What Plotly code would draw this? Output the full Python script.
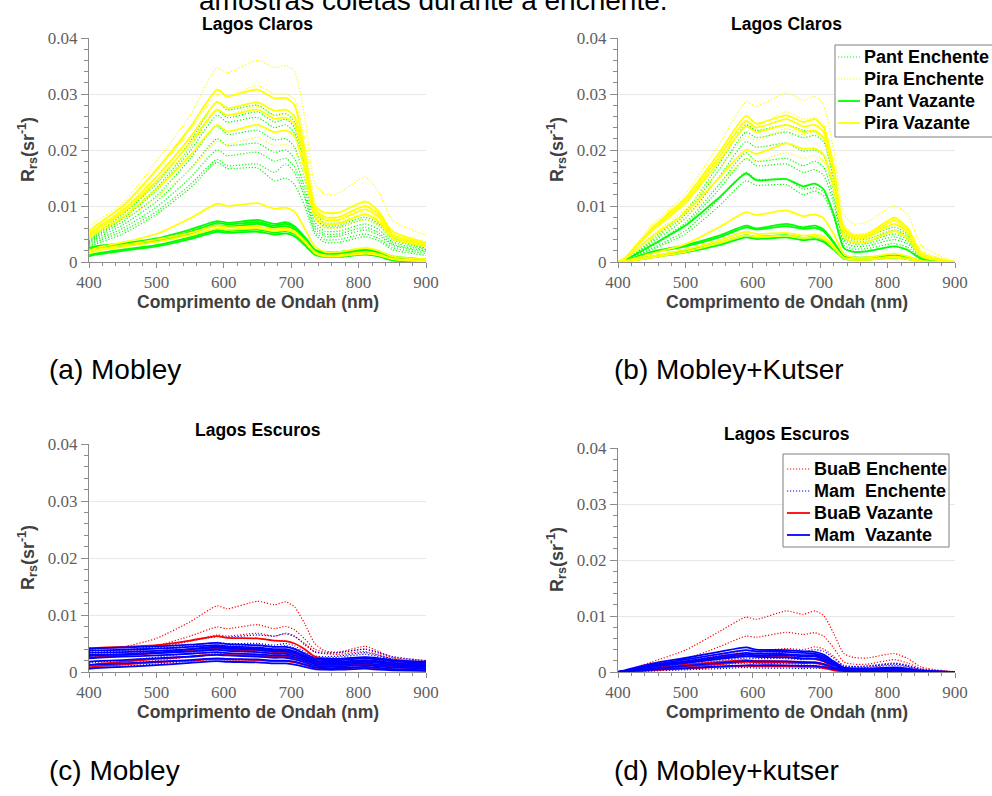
import plotly.graph_objects as go

# Wavelength knots (nm) shared by every spectrum
wavelength = [400, 410, 450, 500, 550, 590, 605, 650, 675, 692, 705, 720, 735, 750, 770, 810, 830, 850, 900]

# ---------------- Lagos Claros, Mobley ----------------
claros_mobley_pant_enchente = [
    [0.0040, 0.0050, 0.0085, 0.0140, 0.0215, 0.0286, 0.0272, 0.0280, 0.0262, 0.0265, 0.0250, 0.0180, 0.0090, 0.0070, 0.0070, 0.0085, 0.0072, 0.0045, 0.0028],
    [0.0038, 0.0048, 0.0080, 0.0132, 0.0205, 0.0272, 0.0258, 0.0268, 0.0250, 0.0255, 0.0240, 0.0172, 0.0085, 0.0065, 0.0065, 0.0080, 0.0068, 0.0042, 0.0025],
    [0.0036, 0.0046, 0.0077, 0.0128, 0.0198, 0.0262, 0.0250, 0.0258, 0.0240, 0.0245, 0.0230, 0.0165, 0.0080, 0.0062, 0.0062, 0.0076, 0.0065, 0.0040, 0.0024],
    [0.0034, 0.0044, 0.0072, 0.0118, 0.0184, 0.0244, 0.0228, 0.0235, 0.0218, 0.0220, 0.0205, 0.0148, 0.0072, 0.0055, 0.0055, 0.0068, 0.0058, 0.0036, 0.0022],
    [0.0032, 0.0041, 0.0066, 0.0108, 0.0166, 0.0220, 0.0208, 0.0212, 0.0196, 0.0200, 0.0185, 0.0132, 0.0065, 0.0050, 0.0050, 0.0062, 0.0052, 0.0032, 0.0020],
    [0.0030, 0.0038, 0.0060, 0.0098, 0.0150, 0.0200, 0.0190, 0.0196, 0.0180, 0.0185, 0.0170, 0.0122, 0.0060, 0.0046, 0.0046, 0.0057, 0.0048, 0.0030, 0.0018],
    [0.0028, 0.0035, 0.0055, 0.0090, 0.0138, 0.0183, 0.0172, 0.0175, 0.0160, 0.0175, 0.0160, 0.0115, 0.0055, 0.0040, 0.0040, 0.0050, 0.0042, 0.0026, 0.0015],
    [0.0026, 0.0032, 0.0050, 0.0085, 0.0132, 0.0178, 0.0167, 0.0168, 0.0145, 0.0150, 0.0138, 0.0100, 0.0050, 0.0035, 0.0035, 0.0045, 0.0038, 0.0022, 0.0012],
]
claros_mobley_pira_enchente = [
    [0.0062, 0.0072, 0.0105, 0.0180, 0.0262, 0.0346, 0.0338, 0.0360, 0.0347, 0.0351, 0.0340, 0.0260, 0.0140, 0.0121, 0.0123, 0.0152, 0.0125, 0.0075, 0.0048],
    [0.0050, 0.0060, 0.0095, 0.0160, 0.0235, 0.0300, 0.0295, 0.0315, 0.0300, 0.0300, 0.0290, 0.0220, 0.0110, 0.0078, 0.0078, 0.0100, 0.0085, 0.0050, 0.0035],
    [0.0045, 0.0055, 0.0088, 0.0140, 0.0205, 0.0270, 0.0262, 0.0278, 0.0262, 0.0265, 0.0255, 0.0190, 0.0095, 0.0070, 0.0070, 0.0088, 0.0075, 0.0045, 0.0030],
    [0.0040, 0.0050, 0.0075, 0.0115, 0.0165, 0.0215, 0.0210, 0.0222, 0.0208, 0.0210, 0.0200, 0.0150, 0.0080, 0.0060, 0.0060, 0.0075, 0.0065, 0.0040, 0.0028],
]
claros_mobley_pant_vazante = [
    [0.0025, 0.0028, 0.0033, 0.0042, 0.0058, 0.0073, 0.0070, 0.0075, 0.0068, 0.0071, 0.0064, 0.0045, 0.0022, 0.0018, 0.0018, 0.0023, 0.0019, 0.0010, 0.0005],
    [0.0022, 0.0025, 0.0030, 0.0039, 0.0054, 0.0070, 0.0067, 0.0071, 0.0065, 0.0068, 0.0061, 0.0042, 0.0020, 0.0016, 0.0016, 0.0021, 0.0017, 0.0009, 0.0004],
    [0.0020, 0.0024, 0.0029, 0.0037, 0.0051, 0.0066, 0.0063, 0.0068, 0.0062, 0.0064, 0.0058, 0.0040, 0.0019, 0.0015, 0.0015, 0.0019, 0.0016, 0.0008, 0.0003],
    [0.0012, 0.0015, 0.0022, 0.0030, 0.0044, 0.0057, 0.0055, 0.0058, 0.0053, 0.0055, 0.0050, 0.0034, 0.0016, 0.0012, 0.0012, 0.0017, 0.0013, 0.0006, 0.0002],
    [0.0010, 0.0013, 0.0020, 0.0028, 0.0041, 0.0054, 0.0052, 0.0054, 0.0049, 0.0051, 0.0046, 0.0030, 0.0013, 0.0009, 0.0009, 0.0013, 0.0010, 0.0003, 0.0000],
]
claros_mobley_pira_vazante = [
    [0.0055, 0.0065, 0.0100, 0.0165, 0.0240, 0.0308, 0.0296, 0.0308, 0.0292, 0.0293, 0.0280, 0.0200, 0.0100, 0.0088, 0.0088, 0.0108, 0.0090, 0.0055, 0.0035],
    [0.0050, 0.0060, 0.0092, 0.0152, 0.0222, 0.0286, 0.0275, 0.0285, 0.0270, 0.0272, 0.0260, 0.0190, 0.0095, 0.0080, 0.0080, 0.0100, 0.0085, 0.0050, 0.0032],
    [0.0046, 0.0056, 0.0088, 0.0145, 0.0212, 0.0272, 0.0262, 0.0272, 0.0256, 0.0258, 0.0246, 0.0180, 0.0090, 0.0075, 0.0075, 0.0094, 0.0080, 0.0048, 0.0030],
    [0.0042, 0.0052, 0.0080, 0.0130, 0.0190, 0.0245, 0.0233, 0.0245, 0.0232, 0.0235, 0.0225, 0.0165, 0.0082, 0.0068, 0.0068, 0.0085, 0.0072, 0.0043, 0.0028],
    [0.0020, 0.0025, 0.0035, 0.0050, 0.0078, 0.0104, 0.0100, 0.0105, 0.0095, 0.0097, 0.0090, 0.0060, 0.0028, 0.0018, 0.0018, 0.0025, 0.0020, 0.0010, 0.0005],
    [0.0018, 0.0022, 0.0030, 0.0040, 0.0052, 0.0065, 0.0062, 0.0063, 0.0058, 0.0060, 0.0055, 0.0038, 0.0018, 0.0012, 0.0012, 0.0018, 0.0014, 0.0006, 0.0002],
    [0.0015, 0.0020, 0.0027, 0.0036, 0.0048, 0.0060, 0.0058, 0.0060, 0.0055, 0.0057, 0.0052, 0.0036, 0.0016, 0.0010, 0.0010, 0.0015, 0.0012, 0.0005, 0.0001],
]

# ---------------- Lagos Claros, Mobley+Kutser ----------------
claros_kutser_pant_enchente = [
    [0.0, 0.0003, 0.0040, 0.0090, 0.0175, 0.0245, 0.0235, 0.0245, 0.0235, 0.0232, 0.0222, 0.0150, 0.0055, 0.0045, 0.0046, 0.0062, 0.0050, 0.0015, 0.0],
    [0.0, 0.0003, 0.0037, 0.0085, 0.0165, 0.0232, 0.0222, 0.0232, 0.0222, 0.0226, 0.0215, 0.0145, 0.0050, 0.0040, 0.0041, 0.0057, 0.0046, 0.0013, 0.0],
    [0.0, 0.0003, 0.0034, 0.0078, 0.0152, 0.0215, 0.0205, 0.0212, 0.0198, 0.0200, 0.0190, 0.0128, 0.0045, 0.0036, 0.0037, 0.0050, 0.0040, 0.0012, 0.0],
    [0.0, 0.0002, 0.0030, 0.0070, 0.0138, 0.0195, 0.0180, 0.0185, 0.0172, 0.0180, 0.0170, 0.0115, 0.0040, 0.0032, 0.0033, 0.0045, 0.0036, 0.0011, 0.0],
    [0.0, 0.0002, 0.0028, 0.0066, 0.0130, 0.0185, 0.0172, 0.0175, 0.0160, 0.0165, 0.0155, 0.0105, 0.0036, 0.0028, 0.0029, 0.0040, 0.0032, 0.0010, 0.0],
    [0.0, 0.0002, 0.0024, 0.0056, 0.0112, 0.0160, 0.0148, 0.0148, 0.0130, 0.0133, 0.0125, 0.0085, 0.0030, 0.0023, 0.0024, 0.0033, 0.0026, 0.0008, 0.0],
    [0.0, 0.0002, 0.0022, 0.0050, 0.0100, 0.0145, 0.0137, 0.0138, 0.0120, 0.0127, 0.0118, 0.0080, 0.0026, 0.0019, 0.0020, 0.0028, 0.0022, 0.0007, 0.0],
]
claros_kutser_pira_enchente = [
    [0.0, 0.0008, 0.0065, 0.0122, 0.0210, 0.0286, 0.0278, 0.0302, 0.0289, 0.0296, 0.0280, 0.0200, 0.0085, 0.0068, 0.0072, 0.0100, 0.0085, 0.0030, 0.0],
    [0.0, 0.0006, 0.0055, 0.0105, 0.0185, 0.0250, 0.0243, 0.0268, 0.0255, 0.0258, 0.0245, 0.0175, 0.0065, 0.0050, 0.0052, 0.0075, 0.0062, 0.0020, 0.0],
    [0.0, 0.0005, 0.0048, 0.0094, 0.0165, 0.0225, 0.0218, 0.0238, 0.0228, 0.0232, 0.0220, 0.0158, 0.0058, 0.0045, 0.0047, 0.0068, 0.0056, 0.0018, 0.0],
    [0.0, 0.0004, 0.0040, 0.0080, 0.0140, 0.0185, 0.0180, 0.0195, 0.0185, 0.0190, 0.0180, 0.0128, 0.0048, 0.0038, 0.0040, 0.0058, 0.0048, 0.0015, 0.0],
]
claros_kutser_pant_vazante = [
    [0.0, 0.0002, 0.0018, 0.0030, 0.0047, 0.0065, 0.0060, 0.0068, 0.0062, 0.0065, 0.0058, 0.0036, 0.0010, 0.0008, 0.0008, 0.0012, 0.0009, 0.0002, 0.0],
    [0.0, 0.0002, 0.0016, 0.0028, 0.0044, 0.0062, 0.0058, 0.0064, 0.0059, 0.0061, 0.0055, 0.0034, 0.0009, 0.0007, 0.0007, 0.0011, 0.0008, 0.0002, 0.0],
    [0.0, 0.0001, 0.0010, 0.0020, 0.0034, 0.0048, 0.0045, 0.0048, 0.0043, 0.0045, 0.0040, 0.0025, 0.0007, 0.0005, 0.0005, 0.0009, 0.0006, 0.0001, 0.0],
    [0.0, 0.0001, 0.0008, 0.0017, 0.0030, 0.0044, 0.0041, 0.0044, 0.0039, 0.0041, 0.0036, 0.0022, 0.0006, 0.0004, 0.0004, 0.0008, 0.0005, 0.0001, 0.0],
    [0.0, 0.0003, 0.0030, 0.0065, 0.0115, 0.0158, 0.0146, 0.0148, 0.0135, 0.0140, 0.0130, 0.0085, 0.0025, 0.0018, 0.0019, 0.0028, 0.0021, 0.0006, 0.0],
]
claros_kutser_pira_vazante = [
    [0.0, 0.0007, 0.0060, 0.0115, 0.0195, 0.0261, 0.0247, 0.0262, 0.0250, 0.0255, 0.0240, 0.0170, 0.0060, 0.0048, 0.0050, 0.0079, 0.0060, 0.0015, 0.0],
    [0.0, 0.0007, 0.0058, 0.0110, 0.0188, 0.0252, 0.0240, 0.0255, 0.0242, 0.0245, 0.0232, 0.0165, 0.0058, 0.0045, 0.0047, 0.0074, 0.0056, 0.0014, 0.0],
    [0.0, 0.0006, 0.0055, 0.0105, 0.0180, 0.0242, 0.0232, 0.0245, 0.0232, 0.0235, 0.0222, 0.0158, 0.0055, 0.0042, 0.0044, 0.0068, 0.0052, 0.0013, 0.0],
    [0.0, 0.0005, 0.0045, 0.0088, 0.0150, 0.0200, 0.0193, 0.0212, 0.0202, 0.0203, 0.0192, 0.0135, 0.0045, 0.0034, 0.0036, 0.0055, 0.0042, 0.0010, 0.0],
    [0.0, 0.0002, 0.0015, 0.0032, 0.0062, 0.0089, 0.0084, 0.0092, 0.0082, 0.0085, 0.0078, 0.0050, 0.0015, 0.0008, 0.0008, 0.0015, 0.0010, 0.0002, 0.0],
    [0.0, 0.0001, 0.0010, 0.0022, 0.0038, 0.0054, 0.0050, 0.0052, 0.0047, 0.0049, 0.0045, 0.0028, 0.0008, 0.0005, 0.0005, 0.0010, 0.0006, 0.0001, 0.0],
    [0.0, 0.0001, 0.0008, 0.0018, 0.0034, 0.0048, 0.0045, 0.0047, 0.0043, 0.0045, 0.0041, 0.0025, 0.0007, 0.0004, 0.0004, 0.0008, 0.0005, 0.0001, 0.0],
]

# ---------------- Lagos Escuros, Mobley ----------------
escuros_mobley_buab_enchente = [
    [0.0038, 0.0040, 0.0044, 0.0059, 0.0088, 0.0116, 0.0111, 0.0124, 0.0118, 0.0123, 0.0114, 0.0085, 0.0050, 0.0037, 0.0035, 0.0045, 0.0036, 0.0026, 0.0020],
    [0.0030, 0.0032, 0.0036, 0.0046, 0.0063, 0.0079, 0.0076, 0.0083, 0.0076, 0.0080, 0.0074, 0.0058, 0.0040, 0.0035, 0.0034, 0.0040, 0.0033, 0.0025, 0.0018],
    [0.0028, 0.0030, 0.0034, 0.0042, 0.0054, 0.0065, 0.0063, 0.0068, 0.0063, 0.0067, 0.0062, 0.0050, 0.0036, 0.0032, 0.0031, 0.0036, 0.0030, 0.0022, 0.0016],
    [0.0010, 0.0012, 0.0015, 0.0020, 0.0027, 0.0033, 0.0032, 0.0034, 0.0031, 0.0033, 0.0030, 0.0022, 0.0013, 0.0010, 0.0010, 0.0013, 0.0010, 0.0007, 0.0005],
]
escuros_mobley_mam_enchente = [
    [0.0032, 0.0034, 0.0038, 0.0045, 0.0055, 0.0062, 0.0061, 0.0065, 0.0063, 0.0068, 0.0063, 0.0048, 0.0035, 0.0033, 0.0034, 0.0040, 0.0034, 0.0027, 0.0020],
    [0.0025, 0.0027, 0.0031, 0.0037, 0.0045, 0.0052, 0.0050, 0.0050, 0.0047, 0.0050, 0.0046, 0.0035, 0.0028, 0.0027, 0.0028, 0.0034, 0.0029, 0.0023, 0.0017],
    [0.0036, 0.0037, 0.0039, 0.0042, 0.0045, 0.0047, 0.0046, 0.0046, 0.0044, 0.0046, 0.0042, 0.0033, 0.0026, 0.0025, 0.0026, 0.0031, 0.0027, 0.0022, 0.0017],
    [0.0015, 0.0017, 0.0020, 0.0026, 0.0033, 0.0040, 0.0039, 0.0040, 0.0037, 0.0040, 0.0036, 0.0027, 0.0020, 0.0019, 0.0020, 0.0025, 0.0021, 0.0016, 0.0012],
    [0.0005, 0.0007, 0.0010, 0.0014, 0.0019, 0.0022, 0.0021, 0.0021, 0.0019, 0.0020, 0.0018, 0.0014, 0.0010, 0.0009, 0.0009, 0.0011, 0.0009, 0.0006, 0.0004],
]
escuros_mobley_buab_vazante = [
    [0.0040, 0.0042, 0.0044, 0.0047, 0.0055, 0.0063, 0.0060, 0.0059, 0.0055, 0.0054, 0.0050, 0.0040, 0.0027, 0.0024, 0.0023, 0.0025, 0.0022, 0.0019, 0.0015],
    [0.0025, 0.0026, 0.0029, 0.0033, 0.0037, 0.0041, 0.0039, 0.0038, 0.0035, 0.0035, 0.0032, 0.0026, 0.0018, 0.0016, 0.0016, 0.0018, 0.0016, 0.0013, 0.0010],
    [0.0012, 0.0014, 0.0018, 0.0023, 0.0027, 0.0031, 0.0030, 0.0029, 0.0027, 0.0027, 0.0025, 0.0020, 0.0014, 0.0012, 0.0012, 0.0014, 0.0012, 0.0009, 0.0007],
    [0.0008, 0.0010, 0.0013, 0.0017, 0.0020, 0.0023, 0.0022, 0.0021, 0.0019, 0.0019, 0.0017, 0.0013, 0.0008, 0.0006, 0.0006, 0.0008, 0.0006, 0.0004, 0.0003],
]
escuros_mobley_mam_vazante = [
    [0.0042, 0.0042, 0.0043, 0.0045, 0.0048, 0.0051, 0.0049, 0.0047, 0.0044, 0.0044, 0.0040, 0.0032, 0.0024, 0.0023, 0.0023, 0.0026, 0.0024, 0.0021, 0.0018],
    [0.0038, 0.0038, 0.0039, 0.0041, 0.0044, 0.0047, 0.0045, 0.0043, 0.0040, 0.0040, 0.0036, 0.0029, 0.0022, 0.0021, 0.0021, 0.0024, 0.0022, 0.0019, 0.0016],
    [0.0034, 0.0034, 0.0035, 0.0037, 0.0040, 0.0043, 0.0041, 0.0039, 0.0036, 0.0036, 0.0033, 0.0026, 0.0019, 0.0018, 0.0018, 0.0021, 0.0019, 0.0016, 0.0014],
    [0.0030, 0.0030, 0.0031, 0.0033, 0.0036, 0.0039, 0.0037, 0.0035, 0.0032, 0.0032, 0.0029, 0.0023, 0.0016, 0.0015, 0.0015, 0.0018, 0.0016, 0.0013, 0.0011],
    [0.0028, 0.0029, 0.0031, 0.0034, 0.0040, 0.0045, 0.0043, 0.0041, 0.0038, 0.0038, 0.0034, 0.0027, 0.0019, 0.0018, 0.0018, 0.0020, 0.0018, 0.0015, 0.0012],
    [0.0024, 0.0025, 0.0027, 0.0029, 0.0032, 0.0035, 0.0033, 0.0031, 0.0029, 0.0029, 0.0026, 0.0020, 0.0014, 0.0013, 0.0013, 0.0015, 0.0013, 0.0011, 0.0009],
    [0.0018, 0.0019, 0.0021, 0.0024, 0.0027, 0.0030, 0.0029, 0.0027, 0.0025, 0.0025, 0.0022, 0.0017, 0.0011, 0.0010, 0.0010, 0.0012, 0.0010, 0.0008, 0.0006],
    [0.0012, 0.0013, 0.0015, 0.0018, 0.0021, 0.0024, 0.0023, 0.0022, 0.0020, 0.0020, 0.0018, 0.0013, 0.0008, 0.0007, 0.0007, 0.0009, 0.0007, 0.0005, 0.0003],
    [0.0006, 0.0007, 0.0009, 0.0012, 0.0016, 0.0019, 0.0018, 0.0017, 0.0015, 0.0015, 0.0013, 0.0009, 0.0005, 0.0004, 0.0004, 0.0006, 0.0004, 0.0003, 0.0002],
]

# ---------------- Lagos Escuros, Mobley+Kutser ----------------
escuros_kutser_buab_enchente = [
    [0.0, 0.0002, 0.0018, 0.0039, 0.0072, 0.0098, 0.0094, 0.0109, 0.0103, 0.0109, 0.0101, 0.0069, 0.0033, 0.0026, 0.0025, 0.0033, 0.0024, 0.0009, 0.0],
    [0.0, 0.0001, 0.0010, 0.0023, 0.0045, 0.0064, 0.0062, 0.0071, 0.0067, 0.0070, 0.0064, 0.0043, 0.0018, 0.0014, 0.0014, 0.0022, 0.0016, 0.0006, 0.0],
    [0.0, 0.0001, 0.0007, 0.0016, 0.0030, 0.0038, 0.0037, 0.0042, 0.0040, 0.0045, 0.0041, 0.0028, 0.0010, 0.0008, 0.0008, 0.0015, 0.0010, 0.0004, 0.0],
    [0.0, 0.0000, 0.0002, 0.0005, 0.0009, 0.0011, 0.0010, 0.0011, 0.0010, 0.0011, 0.0010, 0.0006, 0.0002, 0.0002, 0.0002, 0.0004, 0.0003, 0.0001, 0.0],
]
escuros_kutser_mam_enchente = [
    [0.0, 0.0002, 0.0012, 0.0020, 0.0028, 0.0033, 0.0033, 0.0035, 0.0036, 0.0040, 0.0037, 0.0025, 0.0012, 0.0010, 0.0011, 0.0016, 0.0012, 0.0005, 0.0],
    [0.0, 0.0002, 0.0010, 0.0017, 0.0024, 0.0029, 0.0028, 0.0029, 0.0028, 0.0031, 0.0028, 0.0019, 0.0010, 0.0009, 0.0010, 0.0014, 0.0011, 0.0004, 0.0],
    [0.0, 0.0001, 0.0008, 0.0014, 0.0020, 0.0025, 0.0024, 0.0024, 0.0022, 0.0024, 0.0022, 0.0015, 0.0008, 0.0007, 0.0008, 0.0012, 0.0009, 0.0004, 0.0],
    [0.0, 0.0001, 0.0005, 0.0009, 0.0013, 0.0016, 0.0015, 0.0015, 0.0014, 0.0015, 0.0013, 0.0009, 0.0005, 0.0004, 0.0005, 0.0008, 0.0006, 0.0002, 0.0],
    [0.0, 0.0000, 0.0002, 0.0004, 0.0006, 0.0008, 0.0007, 0.0007, 0.0006, 0.0007, 0.0006, 0.0004, 0.0002, 0.0002, 0.0002, 0.0003, 0.0002, 0.0001, 0.0],
]
escuros_kutser_buab_vazante = [
    [0.0, 0.0002, 0.0010, 0.0018, 0.0026, 0.0031, 0.0028, 0.0027, 0.0024, 0.0023, 0.0019, 0.0008, 0.0002, 0.0002, 0.0002, 0.0003, 0.0002, 0.0001, 0.0],
    [0.0, 0.0001, 0.0007, 0.0013, 0.0018, 0.0021, 0.0020, 0.0019, 0.0018, 0.0017, 0.0014, 0.0006, 0.0001, 0.0001, 0.0001, 0.0002, 0.0001, 0.0000, 0.0],
    [0.0, 0.0001, 0.0005, 0.0010, 0.0014, 0.0018, 0.0017, 0.0017, 0.0016, 0.0016, 0.0013, 0.0006, 0.0002, 0.0001, 0.0001, 0.0002, 0.0001, 0.0000, 0.0],
    [0.0, 0.0000, 0.0003, 0.0006, 0.0009, 0.0011, 0.0010, 0.0010, 0.0009, 0.0009, 0.0007, 0.0003, 0.0001, 0.0000, 0.0000, 0.0001, 0.0000, 0.0000, 0.0],
]
escuros_kutser_mam_vazante = [
    [0.0, 0.0003, 0.0015, 0.0025, 0.0036, 0.0044, 0.0040, 0.0039, 0.0037, 0.0036, 0.0031, 0.0019, 0.0008, 0.0006, 0.0006, 0.0008, 0.0006, 0.0002, 0.0],
    [0.0, 0.0002, 0.0013, 0.0022, 0.0032, 0.0039, 0.0037, 0.0036, 0.0034, 0.0033, 0.0028, 0.0017, 0.0007, 0.0005, 0.0005, 0.0007, 0.0005, 0.0002, 0.0],
    [0.0, 0.0002, 0.0011, 0.0019, 0.0028, 0.0034, 0.0033, 0.0032, 0.0030, 0.0030, 0.0025, 0.0015, 0.0006, 0.0005, 0.0005, 0.0006, 0.0004, 0.0001, 0.0],
    [0.0, 0.0002, 0.0010, 0.0017, 0.0025, 0.0031, 0.0030, 0.0030, 0.0028, 0.0028, 0.0023, 0.0014, 0.0006, 0.0004, 0.0004, 0.0006, 0.0004, 0.0001, 0.0],
    [0.0, 0.0002, 0.0009, 0.0016, 0.0023, 0.0028, 0.0027, 0.0026, 0.0024, 0.0024, 0.0020, 0.0012, 0.0005, 0.0004, 0.0004, 0.0005, 0.0003, 0.0001, 0.0],
    [0.0, 0.0001, 0.0006, 0.0011, 0.0016, 0.0020, 0.0019, 0.0019, 0.0017, 0.0017, 0.0014, 0.0008, 0.0003, 0.0002, 0.0002, 0.0003, 0.0002, 0.0001, 0.0],
    [0.0, 0.0001, 0.0004, 0.0007, 0.0010, 0.0012, 0.0012, 0.0012, 0.0011, 0.0011, 0.0009, 0.0005, 0.0002, 0.0001, 0.0001, 0.0002, 0.0001, 0.0000, 0.0],
]

# Tick labels
x_ticks = [400, 500, 600, 700, 800, 900]
y_ticks = [0, 0.01, 0.02, 0.03, 0.04]
y_tick_text = ["0", "0.01", "0.02", "0.03", "0.04"]

W, H = 992, 796
GREEN, YELLOW, RED, BLUE = "#00ff00", "#ffff00", "#ff0000", "#0000ff"
DOT_W, SOLID_W = 1.2, 1.8
DOT_DASH = "1.2px,1.8px"


def px(x):
    return x / W


def py(y):
    return 1 - y / H


fig = go.Figure()


def add_group(curves, axis, color, dotted):
    for values in curves:
        fig.add_trace(go.Scatter(
            x=wavelength, y=values, mode="lines",
            xaxis="x" + axis, yaxis="y" + axis,
            line=dict(color=color, width=DOT_W if dotted else SOLID_W,
                      dash=DOT_DASH if dotted else "solid",
                      shape="spline", smoothing=0.6),
            showlegend=False, hoverinfo="skip",
        ))


# plotting order: enchente (dotted) first, vazante (solid) on top
panels = [
    ("", [(claros_mobley_pant_enchente, GREEN, True), (claros_mobley_pira_enchente, YELLOW, True),
          (claros_mobley_pant_vazante, GREEN, False), (claros_mobley_pira_vazante, YELLOW, False)]),
    ("2", [(claros_kutser_pant_enchente, GREEN, True), (claros_kutser_pira_enchente, YELLOW, True),
           (claros_kutser_pant_vazante, GREEN, False), (claros_kutser_pira_vazante, YELLOW, False)]),
    ("3", [(escuros_mobley_buab_enchente, RED, True), (escuros_mobley_mam_enchente, BLUE, True),
           (escuros_mobley_buab_vazante, RED, False), (escuros_mobley_mam_vazante, BLUE, False)]),
    ("4", [(escuros_kutser_buab_enchente, RED, True), (escuros_kutser_mam_enchente, BLUE, True),
           (escuros_kutser_buab_vazante, RED, False), (escuros_kutser_mam_vazante, BLUE, False)]),
]
for axis, groups in panels:
    for curves, color, dotted in groups:
        add_group(curves, axis, color, dotted)

# panel boxes in pixels: (left, right, top, bottom)
boxes = {
    "": (89, 426, 38, 262),
    "2": (618, 955, 38, 262),
    "3": (89, 426, 444, 672),
    "4": (618, 955, 448, 672),
}

AXIS_GRAY = "#8c8c8c"
TICK_FONT = dict(family="Liberation Serif, DejaVu Serif, serif", size=17, color="#5f5f5f")

layout = dict(
    width=W, height=H, margin=dict(l=0, r=0, t=0, b=0, autoexpand=False),
    paper_bgcolor="white", plot_bgcolor="white", showlegend=False,
)
for axis, (l, r, t, b) in boxes.items():
    layout["xaxis" + axis] = dict(
        domain=[px(l), px(r)], anchor="y" + axis, range=[400, 900], automargin=False,
        tickvals=x_ticks, ticks="outside", ticklen=5, tickcolor=AXIS_GRAY,
        showline=True, linecolor=AXIS_GRAY, linewidth=1, showgrid=False, zeroline=False,
        tickfont=TICK_FONT,
        minor=dict(dtick=20, ticks="outside", ticklen=3, tickcolor=AXIS_GRAY, showgrid=False),
    )
    layout["yaxis" + axis] = dict(
        domain=[py(b), py(t)], anchor="x" + axis, range=[0, 0.04], automargin=False,
        tickvals=y_ticks, ticktext=y_tick_text, ticks="outside", ticklen=7, tickcolor=AXIS_GRAY,
        showline=True, linecolor=AXIS_GRAY, linewidth=1, showgrid=True, gridcolor="#e8e8e8",
        zeroline=False, tickfont=TICK_FONT,
        minor=dict(dtick=0.002, ticks="outside", ticklen=4, tickcolor=AXIS_GRAY, showgrid=False),
    )
fig.update_layout(**layout)

annotations = []


def text(x, y, s, size, xanchor="center", yanchor="middle", bold=False, color="black",
         family="Liberation Sans", angle=0):
    annotations.append(dict(
        x=px(x), y=py(y), xref="paper", yref="paper", text=s, showarrow=False,
        xanchor=xanchor, yanchor=yanchor, textangle=angle,
        font=dict(family=family, size=size, color=color, weight="bold" if bold else "normal"),
    ))


# running header text from the page
text(197, 18, "amostras coletas durante a enchente.", 28, xanchor="left", yanchor="bottom")

titles = {"": "Lagos Claros", "2": "Lagos Claros", "3": "Lagos Escuros", "4": "Lagos Escuros"}
for axis, (l, r, t, b) in boxes.items():
    cx = (l + r) / 2
    text(cx, t - 14, titles[axis], 17.5, bold=True)
    text(cx, b + 40, "Comprimento de Ondah (nm)", 17.5, bold=True, color="#404040")
    text(l - 62, (t + b) / 2, "R<sub>rs</sub>(sr<sup>-1</sup>)", 18, bold=True, color="#404040", angle=-90)

captions = [(47, 370, "(a) Mobley"), (612, 370, "(b) Mobley+Kutser"),
            (47, 770, "(c) Mobley"), (612, 770, "(d) Mobley+kutser")]
for x, y, s in captions:
    text(x, y, s, 28, xanchor="left")

# legends drawn as boxed keys
shapes = []


def legend(x0, x1, y0, y1, line_x0, line_x1, rows):
    shapes.append(dict(type="rect", xref="paper", yref="paper",
                       x0=px(x0), x1=px(x1), y0=py(y1), y1=py(y0),
                       line=dict(color="#7f7f7f", width=1), fillcolor="white", layer="above"))
    for y, label, color, dotted in rows:
        shapes.append(dict(type="line", xref="paper", yref="paper",
                           x0=px(line_x0), x1=px(line_x1), y0=py(y), y1=py(y),
                           line=dict(color=color, width=DOT_W if dotted else SOLID_W,
                                     dash=DOT_DASH if dotted else "solid"), layer="above"))
        text(line_x1 + 2, y, label, 18, xanchor="left", bold=True)


legend(835, 1005, 45, 137, 838, 860, [
    (57, "Pant Enchente", GREEN, True),
    (79, "Pira Enchente", YELLOW, True),
    (101, "Pant Vazante", GREEN, False),
    (123, "Pira Vazante", YELLOW, False),
])
legend(783, 949, 454, 547, 787, 810, [
    (469, "BuaB Enchente", RED, True),
    (491, "Mam  Enchente", BLUE, True),
    (513, "BuaB Vazante", RED, False),
    (535, "Mam  Vazante", BLUE, False),
])

fig.update_layout(annotations=annotations, shapes=shapes)
fig.write_html("out.html")
